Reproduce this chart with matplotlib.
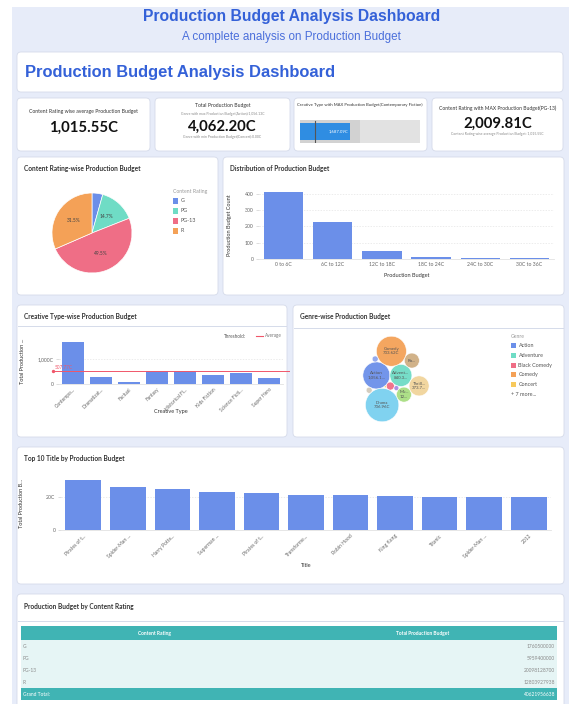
"""Production Budget Analysis Dashboard, redrawn with matplotlib.

The whole figure is laid out in pixel units (569 x 704 px at 100 dpi):
a background axes carries the cards and static text, every chart gets its
own axes placed on top of its card.
"""

import matplotlib

matplotlib.use("Agg")
import matplotlib.pyplot as plt
import numpy as np
from matplotlib.patches import Circle, FancyBboxPatch, Rectangle

# ---------------------------------------------------------------------------
# Data
# ---------------------------------------------------------------------------

rating_names = ["G", "PG", "PG-13", "R"]
rating_budget = [1760500000, 5959400000, 20098128700, 12803927938]
rating_colors = ["#6b8fe9", "#6fdcc5", "#ef6e86", "#f4a157"]

hist_bins = ["0 to 6C", "6C to 12C", "12C to 18C", "18C to 24C", "24C to 30C", "30C to 36C"]
hist_counts = [410, 229, 49, 14, 6, 5]

creative_ticks = ["Contempo...", "Dramatizat...", "Factual", "Fantasy",
                  "Historical Fi...", "Kids Fiction", "Science Ficti...", "Super Hero"]
creative_budget = [1687.09, 279, 52, 510, 511, 341, 441, 241]
creative_max_name = "Contemporary Fiction"

genre_names = ["Action", "Adventure", "Black Comedy", "Comedy", "Concert", "Documentary",
               "Drama", "Horror", "Musical", "Romantic Comedy", "Thriller/Suspense", "Western"]
genre_labels = ["Action\n1,056.1...", "Advent...\n840.3...", "", "Comedy\n733.62C", "", "",
                "Drama\n736.96C", "", "Mu...\n12...", "Ro...", "Thrill...\n373.7...", ""]
genre_budget = [1056.13, 840.35, 45.2, 733.62, 0.0, 8.4, 736.96, 96.5, 128.5, 41.3, 373.75, 1.4]
genre_size = [182, 121, 16, 225, 1, 6, 279, 9, 56, 56, 100, 9]
genre_colors = ["#6b8fe9", "#6fdcc5", "#ef6e86", "#f4a157", "#f7c95c", "#a88be2",
                "#79d0f0", "#8fa6ee", "#a9de82", "#cfae83", "#f1d49b", "#d2cabb"]

top_ticks = ["Pirates of t...", "Spider-Man ...", "Harry Potte...", "Superman ...",
             "Pirates of t...", "Transforme...", "Robin Hood", "King Kong", "Titanic",
             "Spider-Man ...", "2012"]
top_budget = [30.0, 25.8, 25.0, 23.2, 22.5, 21.0, 21.0, 20.7, 20.0, 20.0, 20.0]

# ---------------------------------------------------------------------------
# Style
# ---------------------------------------------------------------------------

W, H = 569, 704
FONT = "Lato"
TITLE_FONT = "Liberation Sans"
PAGE_BG = "#e7ecf9"
CARD_EDGE = "#d5dbea"
HEAD_BLUE = "#3461d8"
BAR_BLUE = "#6b8fe9"
AVG_RED = "#f0566a"
TEAL = "#40b4b4"
TEAL_LIGHT = "#e6f5f5"
TXT = "#333333"
TICK = "#666666"

CRORE = 1e7

fig = plt.figure(figsize=(W / 100, H / 100), dpi=100)
fig.patch.set_facecolor("white")
bg = fig.add_axes([0, 0, 1, 1])
bg.set_xlim(0, W)
bg.set_ylim(H, 0)
bg.axis("off")


def px_axes(x0, y0, x1, y1):
    """Axes placed by pixel box (y measured from the top)."""
    ax = fig.add_axes([x0 / W, 1 - y1 / H, (x1 - x0) / W, (y1 - y0) / H])
    ax.set_facecolor("none")
    return ax


def card(x0, y0, x1, y1, title=None, header_line=None):
    patch = FancyBboxPatch((x0, y0), x1 - x0, y1 - y0,
                           boxstyle="round,pad=0,rounding_size=4",
                           fc="white", ec=CARD_EDGE, lw=0.6)
    bg.add_patch(patch)
    if title:
        bg.text(x0 + 7, y0 + 12, title, ha="left", va="center", fontsize=4.7,
                family=FONT, weight="bold", color=TXT)
    if header_line:
        bg.plot([x0 + 1, x1 - 1], [header_line, header_line], color=CARD_EDGE, lw=0.7)
    return patch


def txt(x, y, s, size, ha="center", weight="normal", color=TXT, family=FONT):
    return bg.text(x, y, s, ha=ha, va="center", fontsize=size, family=family,
                   weight=weight, color=color)


def style_axes(ax, ylabel, xlabel, ylab_x, xlab_y, xsize=3.7):
    for side in ("top", "right", "left"):
        ax.spines[side].set_visible(False)
    ax.spines["bottom"].set_color("#e2e2e2")
    ax.spines["bottom"].set_linewidth(0.6)
    ax.tick_params(axis="x", length=0, labelsize=xsize, labelcolor=TICK, pad=2)
    ax.tick_params(axis="y", length=2.5, width=0.5, color="#d0d0d0",
                   labelsize=3.7, labelcolor=TICK, pad=1.5)
    for lab in ax.get_xticklabels() + ax.get_yticklabels():
        lab.set_family(FONT)
    ax.grid(axis="y", color="#e4e4e4", lw=0.5, ls=(0, (2, 2)))
    ax.set_axisbelow(True)
    ax.set_ylabel(ylabel, fontsize=4.0, family=FONT, color=TXT)
    ax.set_xlabel(xlabel, fontsize=4.0, family=FONT, color=TXT)
    ax.yaxis.set_label_coords(ylab_x, 0.5)
    ax.xaxis.set_label_coords(0.5, xlab_y)
    ax.xaxis.label.set_va("center")
    ax.yaxis.label.set_va("center")


def pack_circles(radii):
    """Front-chain circle packing (same scheme as d3.packSiblings)."""
    n = len(radii)
    R = list(radii)
    P = [(0.0, 0.0)] * n
    if n < 2:
        return P

    def place(b, a, r):
        bx, by = P[b]
        ax_, ay = P[a]
        dx, dy = bx - ax_, by - ay
        d2 = dx * dx + dy * dy
        if d2:
            a2 = (R[a] + r) ** 2
            b2 = (R[b] + r) ** 2
            if a2 > b2:
                x = (d2 + b2 - a2) / (2 * d2)
                y = np.sqrt(max(0.0, b2 / d2 - x * x))
                return (bx - x * dx - y * dy, by - x * dy + y * dx)
            x = (d2 + a2 - b2) / (2 * d2)
            y = np.sqrt(max(0.0, a2 / d2 - x * x))
            return (ax_ + x * dx - y * dy, ay + x * dy + y * dx)
        return (ax_ + r, ay)

    def intersects(a, b):
        dr = R[a] + R[b] - 1e-6
        dx = P[b][0] - P[a][0]
        dy = P[b][1] - P[a][1]
        return dr > 0 and dr * dr > dx * dx + dy * dy

    P[0] = (-R[1], 0.0)
    P[1] = (R[0], 0.0)
    if n == 2:
        return P
    P[2] = place(1, 0, R[2])
    nxt = {0: 1, 1: 2, 2: 0}
    prv = {1: 0, 2: 1, 0: 2}

    def score(node):
        m = nxt[node]
        ab = R[node] + R[m]
        dx = (P[node][0] * R[m] + P[m][0] * R[node]) / ab
        dy = (P[node][1] * R[m] + P[m][1] * R[node]) / ab
        return dx * dx + dy * dy

    a, b = 0, 1
    i = 3
    while i < n:
        P[i] = place(a, b, R[i])
        j, k = nxt[b], prv[a]
        sj, sk = R[b], R[a]
        hit = False
        while True:
            if sj <= sk:
                if intersects(j, i):
                    b = j
                    nxt[a], prv[b] = b, a
                    hit = True
                    break
                sj += R[j]
                j = nxt[j]
            else:
                if intersects(k, i):
                    a = k
                    nxt[a], prv[b] = b, a
                    hit = True
                    break
                sk += R[k]
                k = prv[k]
            if j == nxt[k]:
                break
        if hit:
            continue
        prv[i], nxt[i] = a, b
        nxt[a] = i
        prv[b] = i
        b = i
        aa = score(a)
        c = nxt[i]
        while c != i:
            ca = score(c)
            if ca < aa:
                a, aa = c, ca
            c = nxt[c]
        b = nxt[a]
        i += 1
    return P


# ---------------------------------------------------------------------------
# Page frame and header
# ---------------------------------------------------------------------------

bg.add_patch(Rectangle((12, 7), W - 12, H - 7, fc=PAGE_BG, ec="none"))
txt(291.5, 17, "Production Budget Analysis Dashboard", 11.3, weight="bold",
    color=HEAD_BLUE, family=TITLE_FONT)
txt(291.5, 37, "A complete analysis on Production Budget", 8.4,
    color="#4b6fdb", family=TITLE_FONT)

card(17, 52, 563, 92)
txt(25, 72, "Production Budget Analysis Dashboard", 11.9, ha="left", weight="bold",
    color=HEAD_BLUE, family=TITLE_FONT)

# ---------------------------------------------------------------------------
# KPI cards (derived from the rating table)
# ---------------------------------------------------------------------------

rating_c = np.array(rating_budget) / CRORE
total_c = rating_c.sum()
avg_rating = total_c / len(rating_c)
imax = int(np.argmax(rating_c))
gmax = int(np.argmax(genre_budget))
gmin = int(np.argmin(genre_budget))
avg_creative = total_c / len(creative_budget)

card(17, 98, 150, 151)
txt(83.5, 111, "Content Rating wise average Production Budget", 3.7)
txt(83.5, 128, f"{avg_rating:,.2f}C", 10.7, weight="bold", color="#111111")

card(155, 98, 290, 151)
txt(222.5, 105, "Total Production Budget", 3.7)
txt(222.5, 114, f"Genre with max Production Budget({genre_names[gmax]}):{genre_budget[gmax]:,.2f}C",
    2.5, color="#888888")
txt(222.5, 127, f"{total_c:,.2f}C", 10.7, weight="bold", color="#111111")
txt(222.5, 137, f"Genre with min Production Budget({genre_names[gmin]}):{genre_budget[gmin]:,.2f}C",
    2.5, color="#888888")

gauge_card = card(294, 98, 427, 151)
t = txt(297, 105, f"Creative Type with MAX Production Budget({creative_max_name})", 3.1, ha="left")
t.set_clip_path(gauge_card)

ag = px_axes(300, 120, 420, 143)
ag.barh(0, total_c, height=1, color="#e2e2e2")
ag.barh(0, total_c / 2, height=1, color="#d2d2d2")
ag.barh(0, max(creative_budget), height=0.74, color="#2f8de2")
ag.plot([avg_creative, avg_creative], [-0.46, 0.46], color="#555555", lw=0.8)
ag.text(max(creative_budget) * 0.98, 0, f"{max(creative_budget):,.2f}C", ha="right",
        va="center", fontsize=3.1, family=FONT, color="white")
ag.set_xlim(0, total_c)
ag.set_ylim(-0.5, 0.5)
ag.axis("off")

card(432, 98, 563, 151)
txt(497.5, 108, f"Content Rating with MAX Production Budget({rating_names[imax]})", 3.6)
txt(497.5, 124, f"{rating_c[imax]:,.2f}C", 10.7, weight="bold", color="#111111")
txt(497.5, 134, f"Content Rating wise average Production Budget: {avg_rating:,.2f}C",
    2.5, color="#888888")

# ---------------------------------------------------------------------------
# Pie: content rating share
# ---------------------------------------------------------------------------

card(17, 157, 218, 295, title="Content Rating-wise Production Budget")
ap = px_axes(50, 191, 134, 275)
wedges, _, autotexts = ap.pie(
    rating_c, colors=rating_colors, startangle=90, counterclock=False, radius=1,
    autopct=lambda p: f"{p:.1f}%" if p > 6 else "", pctdistance=0.55,
    wedgeprops=dict(edgecolor="white", linewidth=0.5),
)
for at in autotexts:
    at.set_fontsize(3.5)
    at.set_family(FONT)
    at.set_color("#444444")
ap.set_xlim(-1.05, 1.05)
ap.set_ylim(-1.05, 1.05)
ap.set_aspect("equal")

txt(173, 191, "Content Rating", 3.7, ha="left", color="#999999")
for i, (name, col) in enumerate(zip(rating_names, rating_colors)):
    y = 201 + i * 10
    bg.add_patch(Rectangle((173, y - 2.6), 5.2, 5.2, fc=col, ec="none"))
    txt(180.5, y, name, 3.9, ha="left", color="#555555")

# ---------------------------------------------------------------------------
# Histogram: distribution of production budget
# ---------------------------------------------------------------------------

card(223, 157, 564, 295, title="Distribution of Production Budget")
ah = px_axes(259, 190.4, 554, 259.3)
ah.bar(hist_bins, hist_counts, width=0.8, color=BAR_BLUE)
ah.set_xlim(-0.5, len(hist_bins) - 0.5)
ah.set_ylim(0, 420)
ah.set_yticks([0, 100, 200, 300, 400])
style_axes(ah, "Production Budget Count", "Production Budget", -0.1, -0.23)

# ---------------------------------------------------------------------------
# Creative type bars with average threshold
# ---------------------------------------------------------------------------

card(17, 305, 287, 437, title="Creative Type-wise Production Budget", header_line=326)
ac = px_axes(59, 339.7, 283, 383.7)
ac.bar(creative_ticks, creative_budget, width=0.8, color=BAR_BLUE)
ac.set_xlim(-0.5, len(creative_ticks) - 0.5)
ac.set_ylim(0, 1800)
ac.set_yticks([0, 1000])
ac.set_yticklabels(["0", "1,000C"])
ac.plot([-0.72, len(creative_ticks) - 0.3], [avg_creative, avg_creative],
        color=AVG_RED, lw=0.7, clip_on=False)
ac.plot([-0.72], [avg_creative], "o", ms=1.4, color=AVG_RED, clip_on=False)
ac.text(-0.66, avg_creative + 40, f"{avg_creative:,.2f}C", ha="left", va="bottom",
        fontsize=3.4, family=FONT, color=AVG_RED, clip_on=False)
style_axes(ac, "Total Production ...", "Creative Type", -0.165, -0.63, xsize=3.5)
plt.setp(ac.get_xticklabels(), rotation=45, ha="right", rotation_mode="anchor")
ac.tick_params(axis="x", pad=2.5)
txt(224, 336, "Threshold:", 3.3, ha="left", color="#555555")
bg.plot([256, 263], [336, 336], color=AVG_RED, lw=0.8)
txt(265, 336, "Average", 3.3, ha="left", color="#777777")

# ---------------------------------------------------------------------------
# Genre bubbles
# ---------------------------------------------------------------------------

card(293, 305, 564, 437, title="Genre-wise Production Budget", header_line=328)
ab = px_axes(300, 331, 490, 434)
radii = np.sqrt(np.array(genre_size, dtype=float))
pos = np.array(pack_circles(radii))
lo = (pos - radii[:, None]).min(axis=0)
hi = (pos + radii[:, None]).max(axis=0)
pos = pos - (lo + hi) / 2 + np.array([396, 379])
for (x, y), r, col, lab in zip(pos, radii, genre_colors, genre_labels):
    ab.add_patch(Circle((x, y), r, fc=col, ec="white", lw=0.4, alpha=0.95))
    if lab:
        ab.text(x, y, lab, ha="center", va="center", fontsize=3.2, family=FONT,
                color="#555555", linespacing=1.1)
ab.set_xlim(300, 490)
ab.set_ylim(434, 331)
ab.set_aspect("equal")
ab.axis("off")

txt(511, 336, "Genre", 3.7, ha="left", color="#999999")
for i in range(5):
    y = 345.5 + i * 9.8
    bg.add_patch(Rectangle((511, y - 2.6), 5.2, 5.2, fc=genre_colors[i], ec="none"))
    txt(518.5, y, genre_names[i], 3.9, ha="left", color="#555555")
txt(511, 395, f"+ {len(genre_names) - 5} more...", 3.9, ha="left", color="#555555")

# ---------------------------------------------------------------------------
# Top titles
# ---------------------------------------------------------------------------

card(17, 447, 564, 584, title="Top 10 Title by Production Budget")
at10 = px_axes(61, 477, 551, 530)
at10.bar(range(len(top_budget)), top_budget, width=0.8, color=BAR_BLUE)
at10.set_xticks(range(len(top_budget)))
at10.set_xticklabels(top_ticks)
at10.set_xlim(-0.5, len(top_budget) - 0.5)
at10.set_ylim(0, 32)
at10.set_yticks([0, 20])
at10.set_yticklabels(["0", "20C"])
style_axes(at10, "Total Production B...", "Title", -0.08, -0.67, xsize=3.6)
plt.setp(at10.get_xticklabels(), rotation=45, ha="right", rotation_mode="anchor")
at10.tick_params(axis="x", pad=2.5)

# ---------------------------------------------------------------------------
# Table: production budget by content rating
# ---------------------------------------------------------------------------

card(17, 594, 564, 712, title="Production Budget by Content Rating", header_line=621)
tx0, tx1 = 21, 557
tmid = (tx0 + tx1) / 2
bg.add_patch(Rectangle((tx0, 626), tx1 - tx0, 14, fc=TEAL, ec="none"))
txt((tx0 + tmid) / 2, 633, "Content Rating", 3.5, weight="bold", color="white")
txt((tmid + tx1) / 2, 633, "Total Production Budget", 3.5, weight="bold", color="white")
row_h = 12
bg.add_patch(Rectangle((tx0, 640), tx1 - tx0, row_h * len(rating_names),
                       fc=TEAL_LIGHT, ec="none"))
for i, (name, val) in enumerate(zip(rating_names, rating_budget)):
    y = 640 + row_h * i + row_h / 2
    txt(tx0 + 2, y, name, 3.5, ha="left", color="#8a8a8a")
    txt(tx1 - 2, y, f"{val}", 3.5, ha="right", color="#8a8a8a")
gy = 640 + row_h * len(rating_names)
bg.add_patch(Rectangle((tx0, gy), tx1 - tx0, 12, fc=TEAL, ec="none"))
txt(tx0 + 2, gy + 6, "Grand Total:", 3.5, ha="left", color="white")
txt(tx1 - 2, gy + 6, f"{sum(rating_budget)}", 3.5, ha="right", color="white")

fig.savefig("out.png", dpi=100, facecolor=fig.get_facecolor())
